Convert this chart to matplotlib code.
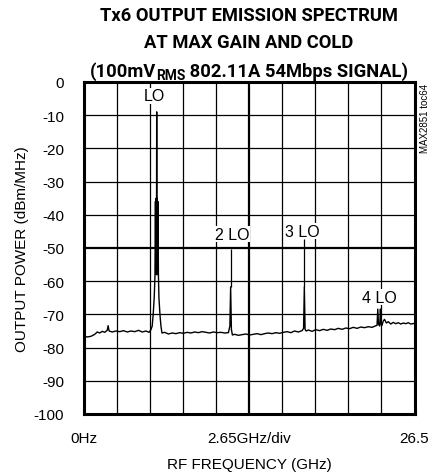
import matplotlib
matplotlib.use("Agg")
import matplotlib.pyplot as plt

# ---- data ----
freq_ghz = [0.0, 0.3, 0.6, 0.9, 1.1, 1.3, 1.5, 1.7, 1.9, 1.97, 2.05, 2.3, 2.6, 2.9, 3.2,
            3.5, 3.8, 4.1, 4.4, 4.7, 5.0, 5.25, 5.40, 5.50, 5.58, 5.66, 5.72, 5.76,
            5.79, 5.82, 5.84, 5.86, 5.88, 5.90, 5.93, 5.96, 6.00, 6.04, 6.12, 6.20,
            6.28, 6.5, 6.8, 7.1,
            7.4, 7.7, 8.0, 8.3, 8.6, 8.9, 9.2, 9.5, 9.8, 10.1, 10.4, 10.7, 11.0, 11.3,
            11.6, 11.72, 11.78, 11.84, 11.92, 12.1, 12.4, 12.7, 13.0, 13.3, 13.6, 13.9,
            14.2, 14.5, 14.8, 15.1, 15.4, 15.7, 16.0, 16.3, 16.6, 16.9, 17.2, 17.5,
            17.62, 17.68, 17.74, 17.82, 18.0, 18.3, 18.6, 18.9, 19.2, 19.5, 19.8, 20.1,
            20.4, 20.7, 21.0, 21.3, 21.6, 21.9, 22.2, 22.5, 22.8, 23.1, 23.35, 23.50,
            23.56, 23.62, 23.72, 23.77, 23.83, 23.89, 24.0, 24.1, 24.25, 24.4, 24.6,
            24.8, 25.0, 25.2, 25.4, 25.6, 25.8, 26.0, 26.2, 26.5]
power_dbm = [-76.5, -76.8, -76.6, -76.0, -75.3, -75.6, -75.1, -75.4, -74.8, -73.4, -75.0,
             -75.3, -75.0, -75.2, -74.9, -75.3, -75.0, -75.2, -74.8, -75.3, -75.0, -75.4,
             -74.6, -73.5, -70.0, -65.0, -58.5, -36.0, -58.0, -35.0, -58.0, -9.0, -58.0,
             -35.0, -58.0, -36.0, -58.5, -65.0, -70.0, -73.5, -75.6,
             -75.4, -75.9, -75.6, -75.8, -75.5,
             -75.7, -75.4, -75.6, -75.3, -75.5, -75.2, -75.4, -75.6, -75.3, -75.5, -75.4,
             -75.6, -75.5, -73.5, -61.7, -74.5, -76.2, -76.0, -76.3, -76.1, -75.9, -76.2,
             -76.0, -75.8, -76.1, -75.8, -75.6, -75.8, -75.5, -75.7, -75.4, -75.2, -75.5,
             -75.0, -75.3, -74.9, -74.2, -61.7, -74.5, -75.0, -74.7, -75.1, -74.6, -74.9,
             -74.5, -74.8, -74.4, -74.6, -74.2, -74.5, -74.1, -74.3, -73.9, -74.2, -73.8,
             -74.0, -73.7, -73.9, -73.5, -73.3, -68.4, -73.0, -73.5, -68.4, -72.8, -73.3,
             -72.0, -71.5, -72.6, -72.2, -72.9, -72.4, -72.8, -72.5, -72.9, -72.6, -72.8,
             -72.5, -72.9, -72.7]

marker_labels = ["LO", "2 LO", "3 LO", "4 LO"]
marker_label_x = [5.7, 11.9, 17.55, 23.65]
marker_label_y = [-4.2, -45.8, -44.9, -64.8]
marker_line_x = [11.78, 17.68]
marker_line_top = [-50.3, -47.3]
marker_line_bottom = [-61.7, -61.7]

y_ticks = [0, -10, -20, -30, -40, -50, -60, -70, -80, -90, -100]
x_tick_pos = [0, 13.25, 26.5]
x_tick_labels = ["0Hz", "2.65GHz/div", "26.5"]

# ---- figure ----
plt.rcParams['font.family'] = ['Liberation Sans', 'DejaVu Sans']
fig = plt.figure(figsize=(4.33, 4.77), dpi=100)
ax = fig.add_axes([83.5 / 433, 1 - 415 / 477, 331 / 433, 332 / 477])

ax.set_xlim(0, 26.5)
ax.set_ylim(-100, 0)

# grid
for i in range(1, 10):
    xv = 26.5 * i / 10
    ax.axvline(xv, color='black', lw=1.6 if i == 5 else 0.9, zorder=1)
for yv in y_ticks[1:-1]:
    ax.axhline(yv, color='black', lw=1.6 if yv == -50 else 0.9, zorder=1)

for s in ax.spines.values():
    s.set_linewidth(2.2)

ax.plot(freq_ghz, power_dbm, color='black', lw=1.0, zorder=3)
ax.vlines(marker_line_x, marker_line_bottom, marker_line_top, color='black', lw=0.9, zorder=3)

for lab, lx, ly in zip(marker_labels, marker_label_x, marker_label_y):
    ax.text(lx, ly, lab, ha='center', va='center', fontsize=11.5, zorder=4,
            bbox=dict(facecolor='white', edgecolor='none', pad=0.5))

ax.set_yticks(y_ticks)
ax.set_yticklabels([str(v) for v in y_ticks])
ax.set_xticks(x_tick_pos)
ax.set_xticklabels(x_tick_labels)
ax.tick_params(length=0, labelsize=11)
ax.tick_params(axis='y', pad=14)
ax.tick_params(axis='x', pad=12)

ax.set_xlabel("RF FREQUENCY (GHz)", fontsize=11, labelpad=9)
ax.set_ylabel("OUTPUT POWER (dBm/MHz)", fontsize=11, labelpad=3.5)

fig.text(424.5 / 433, 1 - 118 / 477, "MAX2851 toc64", rotation=90, fontsize=7,
         ha='center', va='center')

# title
tfam = ['Liberation Sans Narrow', 'Roboto', 'Liberation Sans', 'DejaVu Sans']
renderer = fig.canvas.get_renderer()
probe = fig.text(0, 0, "Tx6 OUTPUT EMISSION SPECTRUM", fontsize=14.5, fontweight='bold',
                 family=tfam)
w_probe = probe.get_window_extent(renderer).width
probe.remove()
tsize = min(15.0, 14.5 * 298.0 / w_probe)

cx = 249 / 433
fig.text(cx, 1 - 21 / 477, "Tx6 OUTPUT EMISSION SPECTRUM", ha='center', va='baseline',
         fontsize=tsize, fontweight='bold', family=tfam)
fig.text(cx, 1 - 48 / 477, "AT MAX GAIN AND COLD", ha='center', va='baseline',
         fontsize=tsize, fontweight='bold', family=tfam)

parts = [("(100mV", tsize, 0), ("RMS", tsize * 0.75, -3), (" 802.11A 54Mbps SIGNAL)", tsize, 0)]
base_y = 477 - 77  # baseline in pixels from bottom
texts = []
widths = []
for s, fs, dy in parts:
    t = fig.text(0, 0, s, fontsize=fs, fontweight='bold', family=tfam, va='baseline', ha='left')
    bb = t.get_window_extent(renderer)
    widths.append(bb.width)
    texts.append((t, dy))
total = sum(widths)
x0 = 249 - total / 2
for (t, dy), w in zip(texts, widths):
    t.set_position((x0 / 433, (base_y + dy) / 477))
    x0 += w

fig.savefig("out.png", dpi=100)
